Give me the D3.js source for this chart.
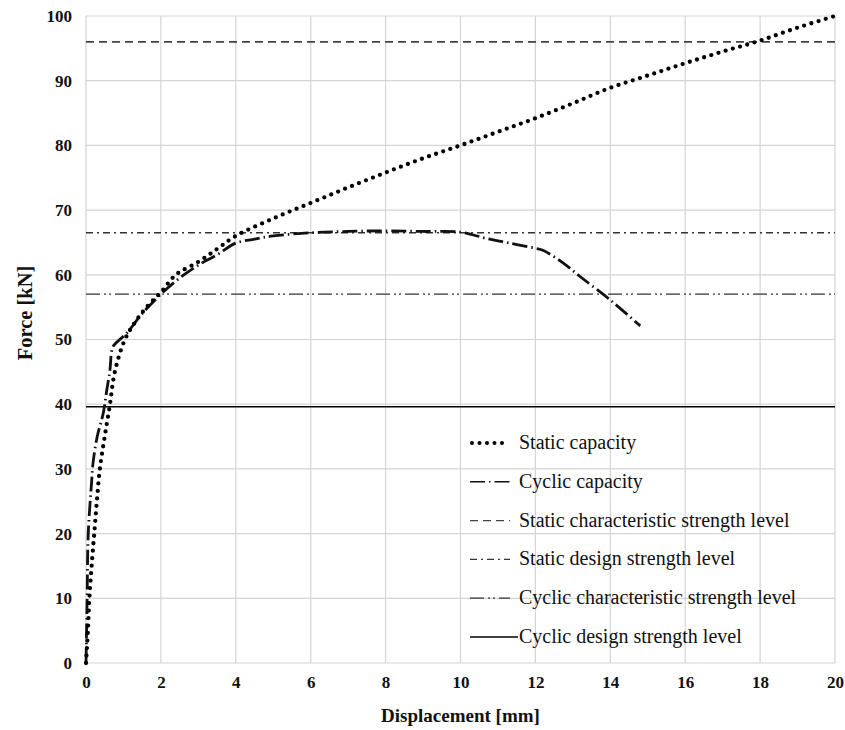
<!DOCTYPE html>
<html>
<head>
<meta charset="utf-8">
<script src="https://cdn.jsdelivr.net/npm/d3@7"></script>
<style>
  body { margin: 0; background: #fff; }
  svg { display: block; font-family: "Liberation Serif", "Times New Roman", serif; }
  .tick text { font-size: 17px; font-weight: bold; fill: #111; }
  .grid line { stroke: #d4d4d4; stroke-width: 1.2; }
  .legend text { font-size: 20px; fill: #111; }
  .title { font-weight: bold; fill: #111; }
</style>
</head>
<body>
<svg width="845" height="730"></svg>
<script>
// static capacity curve (displacement mm, force kN)
const staticX = [0, 0.05, 0.09, 0.15, 0.22, 0.29, 0.37, 0.5, 0.64, 0.77, 1.04, 1.35, 1.62, 2, 2.4, 3, 3.5, 4, 5, 6, 7, 8, 9, 10, 11, 12, 13, 14, 15, 16, 17, 18, 19, 20]
const staticY = [0, 5, 10, 15, 20, 25, 30, 35, 40, 45, 50, 53, 55, 57.3, 60, 62, 64, 66, 68.7, 71.1, 73.5, 75.8, 78, 80, 82.1, 84.2, 86.5, 88.9, 90.8, 92.7, 94.5, 96.2, 98.2, 100]

// cyclic capacity curve
const cyclicX = [0, 0.03, 0.06, 0.15, 0.19, 0.3, 0.46, 0.55, 0.64, 0.68, 0.73, 1.09, 1.5, 2, 2.5, 3, 3.5, 4, 4.5, 5, 6, 7, 8, 9, 10, 10.7, 11.3, 12, 12.2, 12.7, 13.2, 14, 14.8]
const cyclicY = [0, 10, 20, 28, 31, 35, 38.6, 42, 45.3, 48, 49, 51, 54, 57, 59.5, 61.5, 63.1, 64.9, 65.5, 66, 66.5, 66.7, 66.8, 66.7, 66.6, 65.6, 64.9, 64.1, 63.8, 62, 59.7, 56.1, 52.1]

// horizontal strength levels
const levelNames = ['Static characteristic strength level', 'Static design strength level', 'Cyclic characteristic strength level', 'Cyclic design strength level']
const levelValues = [96, 66.5, 57, 39.6]

const legendNames = ['Static capacity', 'Cyclic capacity'].concat(levelNames)

const xTicks = [0, 2, 4, 6, 8, 10, 12, 14, 16, 18, 20]
const yTicks = [0, 10, 20, 30, 40, 50, 60, 70, 80, 90, 100]

const styles = {
  'Static capacity': { dash: '0,7.5', width: 4.3, color: '#000', cap: 'round' },
  'Cyclic capacity': { dash: '15,4,1.5,4', width: 2.8, color: '#111', cap: 'butt' },
  'Static characteristic strength level': { dash: '8,5', width: 1.6, color: '#444', cap: 'butt' },
  'Static design strength level': { dash: '7,4,2,4', width: 1.3, color: '#333', cap: 'butt' },
  'Cyclic characteristic strength level': { dash: '14,4,2,3,2,4', width: 1.3, color: '#333', cap: 'butt' },
  'Cyclic design strength level': { dash: null, width: 1.6, color: '#000', cap: 'butt' },
}

const svg = d3.select('svg')
const plotLeft = 86, plotRight = 835, plotTop = 16, plotBottom = 663

const x = d3.scaleLinear().domain([0, 20]).range([plotLeft, plotRight])
const y = d3.scaleLinear().domain([0, 100]).range([plotBottom, plotTop])

// grid
const grid = svg.append('g').attr('class', 'grid')
grid.selectAll('.v').data(xTicks).enter().append('line')
  .attr('x1', d => x(d)).attr('x2', d => x(d))
  .attr('y1', plotTop).attr('y2', plotBottom)
grid.selectAll('.h').data(yTicks).enter().append('line')
  .attr('x1', plotLeft).attr('x2', plotRight)
  .attr('y1', d => y(d)).attr('y2', d => y(d))

// axes (labels only)
svg.append('g')
  .attr('transform', `translate(0, ${plotBottom})`)
  .call(d3.axisBottom(x).tickValues(xTicks).tickSize(0).tickPadding(13))
  .call(g => g.select('.domain').remove())

svg.append('g')
  .attr('transform', `translate(${plotLeft}, 0)`)
  .call(d3.axisLeft(y).tickValues(yTicks).tickSize(0).tickPadding(14))
  .call(g => g.select('.domain').remove())

svg.selectAll('g[font-family]').attr('font-family', null).attr('font-size', null)

const applyStyle = (sel, name) => {
  const s = styles[name]
  sel.attr('fill', 'none')
    .attr('stroke', s.color)
    .attr('stroke-width', s.width)
    .attr('stroke-linecap', s.cap)
    .attr('stroke-dasharray', s.dash)
}

// levels
levelNames.forEach((name, i) => {
  svg.append('line')
    .attr('x1', x(0)).attr('x2', x(20))
    .attr('y1', y(levelValues[i])).attr('y2', y(levelValues[i]))
    .call(applyStyle, name)
})

svg.append('path')
  .datum(cyclicX.map((v, i) => [v, cyclicY[i]]))
  .attr('d', d3.line().x(d => x(d[0])).y(d => y(d[1])).curve(d3.curveCatmullRom))
  .call(applyStyle, 'Cyclic capacity')

svg.append('path')
  .datum(staticX.map((v, i) => [v, staticY[i]]))
  .attr('d', d3.line().x(d => x(d[0])).y(d => y(d[1])).curve(d3.curveCatmullRom))
  .call(applyStyle, 'Static capacity')

// legend
const legend = svg.append('g').attr('class', 'legend')
  .attr('transform', 'translate(470, 443)')

const rows = legend.selectAll('g').data(legendNames).enter().append('g')
  .attr('transform', (d, i) => `translate(0, ${i * 38.8})`)

rows.append('line')
  .attr('x1', (d, i) => i === 0 ? 2 : 0)
  .attr('x2', (d, i) => i === 0 ? 33 : i === 5 ? 48 : 40)
  .attr('y1', 0).attr('y2', 0)
  .each(function (d) { d3.select(this).call(applyStyle, d) })
  .attr('stroke-width', (d, i) => i === 0 ? 4 : i === 1 ? 1.6 : 1.3)

rows.append('text')
  .attr('x', 49)
  .attr('y', 6)
  .text(d => d)

// axis titles
svg.append('text')
  .attr('class', 'title')
  .attr('font-size', 19)
  .attr('x', x(10))
  .attr('y', 722)
  .attr('text-anchor', 'middle')
  .text('Displacement [mm]')

svg.append('text')
  .attr('class', 'title')
  .attr('font-size', 20.5)
  .attr('transform', 'translate(32, 313) rotate(-90)')
  .attr('text-anchor', 'middle')
  .text('Force [kN]')
</script>
</body>
</html>
